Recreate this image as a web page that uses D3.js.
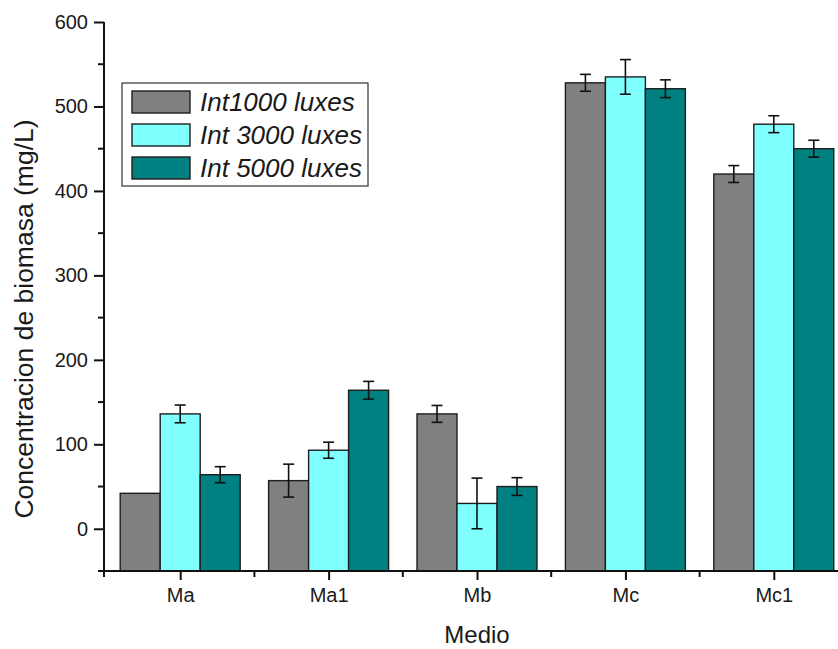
<!DOCTYPE html>
<html>
<head>
<meta charset="utf-8">
<script src="https://cdn.jsdelivr.net/npm/d3@7"></script>
<style>
  body { margin: 0; background: #fff; }
  text { font-family: "Liberation Sans", Arial, sans-serif; fill: #1a1a1a; }
</style>
</head>
<body>
<div id="chart"></div>
<script>
// categories and series
var medios = ["Ma", "Ma1", "Mb", "Mc", "Mc1"]
var series = ["Int1000 luxes", "Int 3000 luxes", "Int 5000 luxes"]
var colores = ["#808080", "#80ffff", "#008080"]

// mean biomass per medio, one array per light intensity
var int1000 = [42, 57, 136, 528, 420]
var int3000 = [136, 93, 30, 535, 479]
var int5000 = [64, 164, 50, 521, 450]

// error (+/-) per bar
var err1000 = [0, 19.5, 10, 10, 10]
var err3000 = [10.5, 9.5, 30, 20.5, 10]
var err5000 = [9.5, 10.5, 10.5, 10.5, 10]

var yTicks = [0, 100, 200, 300, 400, 500, 600]
var yMinor = [50, 150, 250, 350, 450, 550]

var values = [int1000, int3000, int5000]
var errors = [err1000, err3000, err5000]

var W = 838, H = 649

var svg = d3.select('#chart').append('svg')
    .attr('width', W).attr('height', H)

var x = d3.scaleLinear().domain([0.5, 5.5]).range([106, 848])
var y = d3.scaleLinear().domain([-50, 600]).range([571, 22])

var bw = 0.2695 // bar width in category units

// bars
var data = []
values.forEach(function(s, j) {
    s.forEach(function(v, i) {
        data.push({ i: i, j: j, v: v, e: errors[j][i] })
    })
})

var bars = svg.append('g')
bars.selectAll('rect')
    .data(data)
    .enter().append('rect')
    .attr('x', function(d) { return x(d.i + 1 + (d.j - 1.5) * bw) })
    .attr('width', x(bw) - x(0))
    .attr('y', function(d) { return y(d.v) })
    .attr('height', function(d) { return y(-50) - y(d.v) })
    .attr('fill', function(d) { return colores[d.j] })
    .attr('stroke', '#1e1e1e')
    .attr('stroke-width', 1.4)

// error bars
var eb = svg.append('g').attr('stroke', '#111').attr('stroke-width', 1.6)
var withErr = data.filter(function(d) { return d.e > 0 })
withErr.forEach(function(d) {
    var cx = x(d.i + 1 + (d.j - 1) * bw)
    eb.append('line').attr('x1', cx).attr('x2', cx)
        .attr('y1', y(d.v + d.e)).attr('y2', y(d.v - d.e))
    eb.append('line').attr('x1', cx - 5.5).attr('x2', cx + 5.5)
        .attr('y1', y(d.v + d.e)).attr('y2', y(d.v + d.e))
    eb.append('line').attr('x1', cx - 5.5).attr('x2', cx + 5.5)
        .attr('y1', y(d.v - d.e)).attr('y2', y(d.v - d.e))
})

// y axis
var yAxis = svg.append('g')
    .attr('transform', 'translate(104,0)')
    .call(d3.axisLeft(y).tickValues(yTicks).tickSize(10).tickPadding(6))
yAxis.select('.domain').remove()
yAxis.selectAll('.tick line').attr('stroke', '#111').attr('stroke-width', 2)
yAxis.selectAll('.tick text')
    .style('font-size', '20px')
    .style('font-family', '"Liberation Sans", Arial, sans-serif')
    .attr('fill', '#1a1a1a')

svg.append('g').selectAll('line')
    .data(yMinor)
    .enter().append('line')
    .attr('x1', 98).attr('x2', 104)
    .attr('y1', function(d) { return y(d) }).attr('y2', function(d) { return y(d) })
    .attr('stroke', '#111').attr('stroke-width', 2)

svg.append('line')
    .attr('x1', 104).attr('x2', 104)
    .attr('y1', y(600)).attr('y2', 577)
    .attr('stroke', '#111').attr('stroke-width', 2)

// x axis
var xAxis = svg.append('g')
    .attr('transform', 'translate(0,571)')
    .call(d3.axisBottom(x).tickValues([1, 2, 3, 4, 5])
        .tickFormat(function(d) { return medios[d - 1] })
        .tickSize(9).tickPadding(8))
xAxis.select('.domain').remove()
xAxis.selectAll('.tick line').attr('stroke', '#111').attr('stroke-width', 2)
xAxis.selectAll('.tick text')
    .style('font-size', '20px')
    .style('font-family', '"Liberation Sans", Arial, sans-serif')
    .attr('fill', '#1a1a1a')

svg.append('g').selectAll('line')
    .data([1.5, 2.5, 3.5, 4.5])
    .enter().append('line')
    .attr('x1', function(d) { return x(d) }).attr('x2', function(d) { return x(d) })
    .attr('y1', 571).attr('y2', 577)
    .attr('stroke', '#111').attr('stroke-width', 2)

svg.append('line')
    .attr('x1', 98).attr('x2', W)
    .attr('y1', 571).attr('y2', 571)
    .attr('stroke', '#111').attr('stroke-width', 2)

// axis titles
svg.append('text')
    .attr('transform', 'translate(33,319) rotate(-90)')
    .attr('text-anchor', 'middle')
    .style('font-size', '26.5px')
    .text('Concentracion de biomasa (mg/L)')

svg.append('text')
    .attr('x', 477).attr('y', 643)
    .attr('text-anchor', 'middle')
    .style('font-size', '24px')
    .text('Medio')

// legend
var leg = svg.append('g')
leg.append('rect')
    .attr('x', 122).attr('y', 83).attr('width', 246).attr('height', 103)
    .attr('fill', '#fff').attr('stroke', '#333').attr('stroke-width', 1.2)

var items = leg.selectAll('g.item')
    .data(series)
    .enter().append('g')
    .attr('class', 'item')
    .attr('transform', function(d, i) { return 'translate(0,' + (102 + i * 33) + ')' })

items.append('rect')
    .attr('x', 132).attr('y', -11).attr('width', 58).attr('height', 22)
    .attr('fill', function(d, i) { return colores[i] })
    .attr('stroke', '#1e1e1e').attr('stroke-width', 1.4)

items.append('text')
    .attr('x', 200).attr('y', 9)
    .style('font-size', '26px')
    .style('font-style', 'italic')
    .text(function(d) { return d })
</script>
</body>
</html>
